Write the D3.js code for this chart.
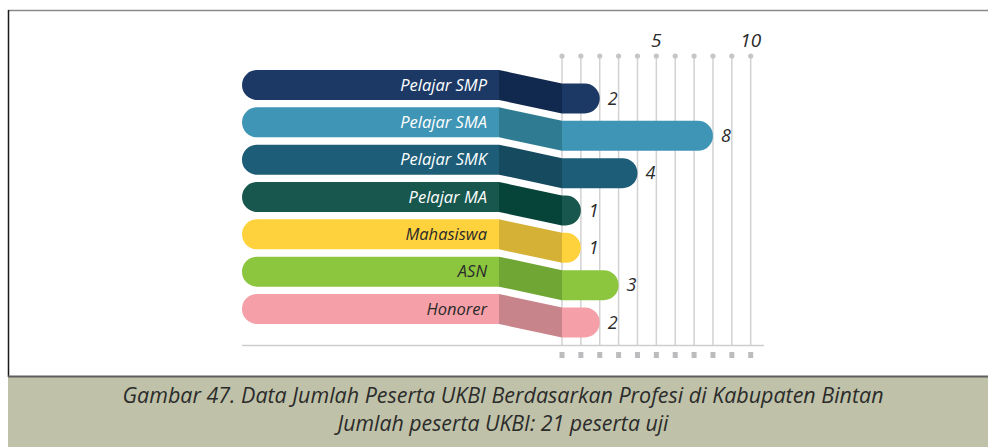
<!DOCTYPE html>
<html>
<head>
<meta charset="utf-8">
<script src="https://cdn.jsdelivr.net/npm/d3@7"></script>
<style>
  html, body { margin: 0; padding: 0; background: #ffffff; }
  svg { display: block; }
</style>
</head>
<body>
<svg id="chart" width="988" height="447"></svg>
<script>
// Participants per profession
const categories = ["Pelajar SMP", "Pelajar SMA", "Pelajar SMK", "Pelajar MA", "Mahasiswa", "ASN", "Honorer"];
const values = [2, 8, 4, 1, 1, 3, 2];
const tickValues = [0, 1, 2, 3, 4, 5, 6, 7, 8, 9, 10];
const tickLabels = [5, 10];
const barColors = ["#1c3966", "#3f95b5", "#1d5d78", "#18574d", "#fed23d", "#8cc63f", "#f5a0a8"];
const linkColors = ["#12294f", "#2f7c92", "#164a5f", "#06443a", "#d5b135", "#70a633", "#c8848b"];
const textColors = ["#ffffff", "#ffffff", "#ffffff", "#ffffff", "#2a2a2a", "#2a2a2a", "#2a2a2a"];
const captionLines = [
  "Gambar 47. Data Jumlah Peserta UKBI Berdasarkan Profesi di Kabupaten Bintan",
  "Jumlah peserta UKBI: 21 peserta uji"
];

const svg = d3.select("#chart");
const W = 988, H = 447;

// frame
svg.append("rect").attr("x", 8).attr("y", 377).attr("width", W - 8).attr("height", H - 377).attr("fill", "#bfc2a8");
svg.append("line").attr("x1", 8).attr("x2", W).attr("y1", 10.5).attr("y2", 10.5).attr("stroke", "#8a8a8a").attr("stroke-width", 1.5);
svg.append("line").attr("x1", 8.5).attr("x2", 8.5).attr("y1", 10).attr("y2", 377).attr("stroke", "#1a1a1a").attr("stroke-width", 1.5);
svg.append("line").attr("x1", 8).attr("x2", W).attr("y1", 376.5).attr("y2", 376.5).attr("stroke", "#5e5e5e").attr("stroke-width", 2);

// scales
const x = d3.scaleLinear().domain([0, 10]).range([562, 750.7]);
const step = 37.33, bandH = 30;
const y = d3.scaleBand().domain(categories)
  .range([70, 70 + step * categories.length - (step - bandH)])
  .paddingInner((step - bandH) / step).paddingOuter(0);

const labelLeft = 242, labelRight = 499, drop = 13.5, r = bandH / 2;
const gridTop = 56, gridBottom = 345;

// grid
const grid = svg.append("g");
grid.selectAll("line.g").data(tickValues).join("line")
  .attr("x1", d => x(d)).attr("x2", d => x(d))
  .attr("y1", gridTop).attr("y2", gridBottom)
  .attr("stroke", "#d2d2d4").attr("stroke-width", 1.5);
grid.selectAll("circle").data(tickValues).join("circle")
  .attr("cx", d => x(d)).attr("cy", gridTop).attr("r", 2.6).attr("fill", "#c6c6c8");
grid.selectAll("rect").data(tickValues).join("rect")
  .attr("x", d => x(d) - 2.5).attr("y", 352).attr("width", 5).attr("height", 6).attr("fill", "#bcbcbe");
svg.append("line").attr("x1", labelLeft).attr("x2", 764).attr("y1", gridBottom + 0.5).attr("y2", gridBottom + 0.5)
  .attr("stroke", "#cdcdcf").attr("stroke-width", 1.5);

svg.append("g").selectAll("text").data(tickLabels).join("text")
  .attr("x", d => x(d)).attr("y", 47)
  .attr("text-anchor", "middle")
  .attr("font-family", "'Open Sans', sans-serif").attr("font-style", "italic")
  .attr("font-size", 19).attr("fill", "#2a2a2a")
  .text(d => d);

// bars
const rows = svg.append("g").selectAll("g").data(categories).join("g");

rows.append("path")
  .attr("d", d => {
    const t = y(d), b = t + bandH;
    return `M${labelRight},${t} H${labelLeft + r} A${r},${r} 0 0 0 ${labelLeft + r},${b} H${labelRight} Z`;
  })
  .attr("fill", (d, i) => barColors[i]);

rows.append("path")
  .attr("d", d => {
    const t = y(d);
    return `M${labelRight},${t} L${x(0)},${t + drop} L${x(0)},${t + drop + bandH} L${labelRight},${t + bandH} Z`;
  })
  .attr("fill", (d, i) => linkColors[i]);

rows.append("path")
  .attr("d", (d, i) => {
    const t = y(d) + drop, b = t + bandH, end = x(values[i]);
    return `M${x(0)},${t} H${end - r} A${r},${r} 0 0 1 ${end - r},${b} H${x(0)} Z`;
  })
  .attr("fill", (d, i) => barColors[i]);

rows.append("text")
  .attr("x", 487).attr("y", d => y(d) + bandH / 2)
  .attr("dy", "0.35em").attr("text-anchor", "end")
  .attr("font-family", "'Open Sans', sans-serif").attr("font-style", "italic")
  .attr("font-size", 16.5).attr("fill", (d, i) => textColors[i])
  .text(d => d);

rows.append("text")
  .attr("x", (d, i) => x(values[i]) + 8).attr("y", d => y(d) + drop + bandH / 2)
  .attr("dy", "0.35em")
  .attr("font-family", "'Open Sans', sans-serif").attr("font-style", "italic")
  .attr("font-size", 18).attr("fill", "#2a2a2a")
  .text((d, i) => values[i]);

// caption
const capWidths = [761, 331];
svg.append("g").selectAll("text").data(captionLines).join("text")
  .attr("x", 503).attr("y", (d, i) => 403 + i * 28)
  .attr("text-anchor", "middle")
  .attr("font-family", "'Open Sans', sans-serif").attr("font-style", "italic")
  .attr("font-size", 22).attr("fill", "#2b2b2b")
  .attr("textLength", (d, i) => capWidths[i]).attr("lengthAdjust", "spacingAndGlyphs")
  .text(d => d);
</script>
</body>
</html>
